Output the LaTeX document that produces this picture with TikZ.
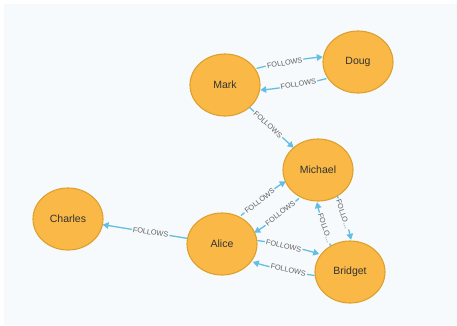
\documentclass[tikz,border=0pt]{standalone}
\usepackage{fontspec}
\setmainfont{Liberation Sans}
\usetikzlibrary{shapes.geometric,calc,arrows.meta}
\definecolor{bgc}{RGB}{246,250,253}
\definecolor{nodefill}{RGB}{250,185,70}
\definecolor{nodeborder}{RGB}{222,160,45}
\definecolor{relc}{RGB}{100,190,225}
\definecolor{lblc}{RGB}{95,95,95}
\definecolor{namec}{RGB}{50,50,50}
% #1 from, #2 to, #3 label, #4 side offset, #5 shorten start, #6 shorten end, #7 bend
\newcommand\myrel[7]{\draw[rel, shorten <=#5, shorten >=#6] ($(#1)!#4!90:(#2)$) to[bend left=#7] node[lbl]{#3} ($(#2)!#4!-90:(#1)$);}
\begin{document}
\begin{tikzpicture}[x=1pt,y=-1pt,
 person/.style={ellipse, draw=nodeborder, line width=1.1pt, fill=nodefill, minimum width=70pt, minimum height=62pt, inner sep=0pt, font=\fontsize{10.5}{12}\selectfont, text=namec},
 rel/.style={draw=relc, line width=1.3pt, -{Triangle[length=6pt,width=6.5pt]}},
 lbl/.style={pos=0.46, sloped, fill=bgc, inner sep=1.2pt, text=lblc, font=\fontsize{7.3}{8}\selectfont}]
\fill[white] (0,0) rectangle (457,325);
\fill[bgc] (4,4) rectangle (457,325);
\useasboundingbox (0,0) rectangle (457,325);
\node[person] (mark) at (225,85) {Mark};
\node[person] (doug) at (358,62) {Doug};
\node[person] (michael) at (318,170) {Michael};
\node[person] (charles) at (68,219) {Charles};
\node[person] (alice) at (222,244) {Alice};
\node[person] (bridget) at (350,272) {Bridget};
\myrel{mark}{doug}{FOLLOWS}{8pt}{34pt}{34pt}{5}
\myrel{doug}{mark}{FOLLOWS}{8pt}{34pt}{34pt}{5}
\myrel{mark}{michael}{FOLLOWS}{0pt}{33pt}{33pt}{0}
\myrel{alice}{michael}{FOLLOWS}{8pt}{32.5pt}{32.5pt}{5}
\myrel{michael}{alice}{FOLLOWS}{8pt}{32.5pt}{32.5pt}{5}
\myrel{alice}{charles}{FOLLOWS}{0pt}{35pt}{35pt}{0}
\myrel{alice}{bridget}{FOLLOWS}{8pt}{34pt}{34pt}{5}
\myrel{bridget}{alice}{FOLLOWS}{8pt}{34pt}{34pt}{5}
\myrel{michael}{bridget}{FOLLO...}{8pt}{30.5pt}{30.5pt}{5}
\myrel{bridget}{michael}{FOLLO...}{8pt}{30.5pt}{30.5pt}{5}
\end{tikzpicture}
\end{document}
